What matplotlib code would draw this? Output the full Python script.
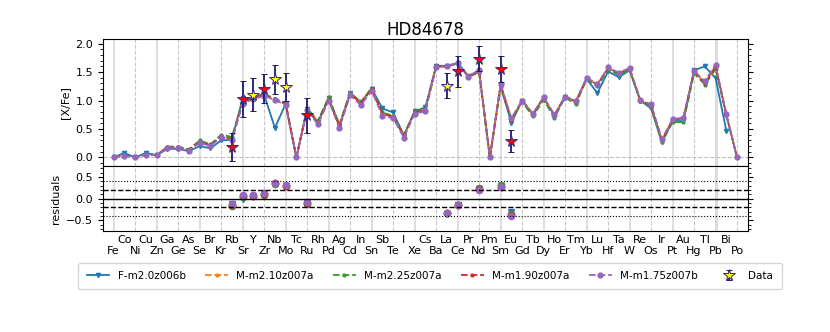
import numpy as np
import matplotlib
matplotlib.use('Agg')
import matplotlib.pyplot as plt
from matplotlib.ticker import MultipleLocator, FixedLocator, FixedFormatter

# elements Fe..Po (Z = 26..84)
elements = ['Fe', 'Co', 'Ni', 'Cu', 'Zn', 'Ga', 'Ge', 'As', 'Se', 'Br', 'Kr', 'Rb', 'Sr', 'Y', 'Zr',
            'Nb', 'Mo', 'Tc', 'Ru', 'Rh', 'Pd', 'Ag', 'Cd', 'In', 'Sn', 'Sb', 'Te', 'I', 'Xe', 'Cs',
            'Ba', 'La', 'Ce', 'Pr', 'Nd', 'Pm', 'Sm', 'Eu', 'Gd', 'Tb', 'Dy', 'Ho', 'Er', 'Tm', 'Yb',
            'Lu', 'Hf', 'Ta', 'W', 'Re', 'Os', 'Ir', 'Pt', 'Au', 'Hg', 'Tl', 'Pb', 'Bi', 'Po']
z_first = 26

F_m20z006b = [0.00, 0.08, 0.00, 0.08, 0.04, 0.15, 0.15, 0.11, 0.20, 0.16, 0.30, 0.31, 1.04, 1.05, 1.10,
              0.52, 0.94, 0.00, 0.85, 0.62, 1.04, 0.56, 1.13, 0.97, 1.21, 0.86, 0.79, 0.39, 0.81, 0.88,
              1.61, 1.61, 1.66, 1.43, 1.52, 0.00, 1.26, 0.61, 1.00, 0.76, 1.05, 0.74, 1.07, 0.98, 1.38,
              1.13, 1.51, 1.41, 1.53, 1.00, 0.86, 0.27, 0.64, 0.64, 1.53, 1.60, 1.39, 0.47, np.nan]
M_m210z007a = [0.00, 0.04, 0.00, 0.05, 0.04, 0.18, 0.18, 0.13, 0.28, 0.21, 0.38, 0.33, 0.97, 1.04, 1.10,
               1.02, 0.94, 0.00, 0.85, 0.62, 1.04, 0.56, 1.13, 0.96, 1.21, 0.78, 0.72, 0.39, 0.80, 0.84,
               1.60, 1.60, 1.65, 1.42, 1.50, 0.00, 1.27, 0.66, 1.00, 0.76, 1.05, 0.74, 1.07, 0.98, 1.39,
               1.28, 1.57, 1.48, 1.56, 1.00, 0.91, 0.30, 0.66, 0.69, 1.51, 1.31, 1.60, 0.75, 0.00]
M_m225z007a = [0.00, 0.04, 0.00, 0.06, 0.04, 0.19, 0.19, 0.14, 0.30, 0.23, 0.40, 0.36, 0.99, 1.05, 1.12,
               1.03, 0.96, 0.00, 0.87, 0.64, 1.06, 0.58, 1.14, 0.97, 1.22, 0.79, 0.73, 0.39, 0.81, 0.85,
               1.60, 1.60, 1.66, 1.42, 1.49, 0.00, 1.23, 0.64, 0.98, 0.72, 1.01, 0.70, 1.05, 0.94, 1.37,
               1.25, 1.54, 1.45, 1.53, 0.99, 0.89, 0.27, 0.62, 0.62, 1.48, 1.28, 1.55, 0.74, 0.00]
M_m190z007a = [0.00, 0.04, 0.00, 0.05, 0.04, 0.18, 0.18, 0.13, 0.28, 0.21, 0.38, 0.32, 0.97, 1.04, 1.10,
               1.02, 0.94, 0.00, 0.85, 0.61, 1.03, 0.55, 1.12, 0.95, 1.20, 0.77, 0.71, 0.38, 0.79, 0.83,
               1.60, 1.60, 1.65, 1.42, 1.51, 0.00, 1.28, 0.66, 1.00, 0.76, 1.05, 0.74, 1.07, 0.98, 1.39,
               1.28, 1.57, 1.48, 1.56, 1.00, 0.92, 0.31, 0.66, 0.69, 1.51, 1.30, 1.60, 0.75, 0.00]
M_m175z007b = [0.00, 0.03, 0.00, 0.05, 0.04, 0.17, 0.17, 0.12, 0.26, 0.20, 0.36, 0.30, 0.94, 1.03, 1.08,
               1.01, 0.92, 0.00, 0.83, 0.58, 1.00, 0.52, 1.09, 0.92, 1.17, 0.73, 0.69, 0.35, 0.77, 0.81,
               1.59, 1.60, 1.66, 1.42, 1.54, 0.00, 1.29, 0.69, 1.00, 0.77, 1.06, 0.75, 1.07, 0.99, 1.40,
               1.29, 1.58, 1.49, 1.57, 1.01, 0.93, 0.32, 0.67, 0.70, 1.52, 1.34, 1.63, 0.76, 0.00]

model_names = ['F-m2.0z006b', 'M-m2.10z007a', 'M-m2.25z007a', 'M-m1.90z007a', 'M-m1.75z007b']
model_vals = [F_m20z006b, M_m210z007a, M_m225z007a, M_m190z007a, M_m175z007b]

# observed abundances of HD84678
data_elems = ['Rb', 'Sr', 'Zr', 'Ru', 'Ce', 'Nd', 'Sm', 'Eu']
data_vals = [0.18, 1.03, 1.21, 0.74, 1.51, 1.73, 1.55, 0.29]
data_errs = [0.25, 0.32, 0.26, 0.31, 0.27, 0.22, 0.23, 0.19]
lim_elems = ['Y', 'Nb', 'Mo', 'La']
lim_vals = [1.10, 1.37, 1.24, 1.26]
lim_errs = [0.29, 0.25, 0.25, 0.22]


def zof(sym):
    return z_first + elements.index(sym)


def main():
    z = np.arange(z_first, z_first + len(elements))
    colors = ['C0', 'C1', 'C2', 'C3', 'C4']
    styles = ['-', '--', '--', '--', '--']
    marks = ['v', '.', '.', '.', 'o']
    sizes = [3, 4, 4, 4, 3.5]

    fig = plt.figure(figsize=(8.3, 3.32), dpi=100)
    ax1 = fig.add_axes([0.124, 0.5, 0.777, 0.3825])
    ax2 = fig.add_axes([0.124, 0.304, 0.777, 0.196], sharex=ax1)

    for ax in (ax1, ax2):
        for zz in z:
            if zz % 4 == 2:
                ax.axvline(zz, color='#dcdcdc', lw=1.3 if zz != 82 else 2.2, zorder=0)
            elif zz % 2 == 0:
                ax.axvline(zz, color='#c8c8c8', lw=0.8, ls='--', zorder=0)
    ax1.axhline(0, color='#c0c0c0', lw=0.8, ls='--', zorder=0)

    handles = []
    for name, vals, c, ls, m, ms in zip(model_names, model_vals, colors, styles, marks, sizes):
        h, = ax1.plot(z, vals, color=c, ls=ls, marker=m, ms=ms, lw=1.3, label=name)
        handles.append(h)

    dz = [zof(s) for s in data_elems]
    lz = [zof(s) for s in lim_elems]
    hd = ax1.errorbar(lz, lim_vals, yerr=lim_errs, fmt='*', ms=8.5, mfc='yellow', mec='#3a2a80',
                      mew=0.7, ecolor='#1a1a6e', elinewidth=1.3, capsize=2, zorder=5, label='Data')
    ax1.errorbar(dz, data_vals, yerr=data_errs, fmt='*', ms=8.5, mfc='red', mec='#3a2a80',
                 mew=0.7, ecolor='#1a1a6e', elinewidth=1.3, capsize=2, zorder=5)
    handles.append(hd)

    ax1.set_xlim(25, 85)
    ax1.set_ylim(-0.15, 2.08)
    ax1.yaxis.set_major_locator(MultipleLocator(0.5))
    ax1.yaxis.set_minor_locator(MultipleLocator(0.1))
    ax1.tick_params(axis='x', which='both', bottom=False, labelbottom=False)
    ax1.tick_params(axis='y', which='both', right=True, labelsize=8)
    ax1.set_ylabel('[X/Fe]', fontsize=8)
    ax1.set_title('HD84678', fontsize=12, pad=3)

    # residuals: data - model
    all_z = dz + lz
    all_v = data_vals + lim_vals
    order = np.argsort(all_z)
    all_z = np.array(all_z)[order]
    all_v = np.array(all_v)[order]
    for vals, c, m in zip(model_vals, colors, ['v', 'o', 'o', 'o', 'o']):
        mv = np.array(vals)[all_z - z_first]
        ax2.plot(all_z, all_v - mv, ls='none', marker=m, ms=4.5, color=c)

    ax2.axhline(0, color='k', lw=1)
    for y in (0.2, -0.2):
        ax2.axhline(y, color='k', lw=1, ls='--')
    for y in (0.4, -0.4):
        ax2.axhline(y, color='k', lw=0.8, ls=':')
    ax2.set_ylim(-0.75, 0.75)
    ax2.yaxis.set_major_locator(MultipleLocator(0.5))
    ax2.yaxis.set_minor_locator(MultipleLocator(0.1))
    ax2.tick_params(axis='y', which='both', right=True, labelsize=8)
    ax2.set_ylabel('residuals', fontsize=8)

    # odd Z on the upper label row, even Z on the lower one
    odd = [zz for zz in z if zz % 2 == 1]
    even = [zz for zz in z if zz % 2 == 0]
    ax2.xaxis.set_major_locator(FixedLocator(odd))
    ax2.xaxis.set_major_formatter(FixedFormatter([elements[zz - z_first] for zz in odd]))
    ax2.xaxis.set_minor_locator(FixedLocator(even))
    ax2.xaxis.set_minor_formatter(FixedFormatter([elements[zz - z_first] for zz in even]))
    ax2.tick_params(axis='x', which='major', length=0, pad=3, labelsize=8)
    ax2.tick_params(axis='x', which='minor', length=0, pad=11, labelsize=8)

    fig.legend(handles, model_names + ['Data'], loc='center', bbox_to_anchor=(0.518, 0.169),
               ncol=6, fontsize=7.5, columnspacing=1.85, handlelength=2.2, borderpad=0.8)

    fig.savefig('out.png', dpi=100)


if __name__ == "__main__":
    main()
